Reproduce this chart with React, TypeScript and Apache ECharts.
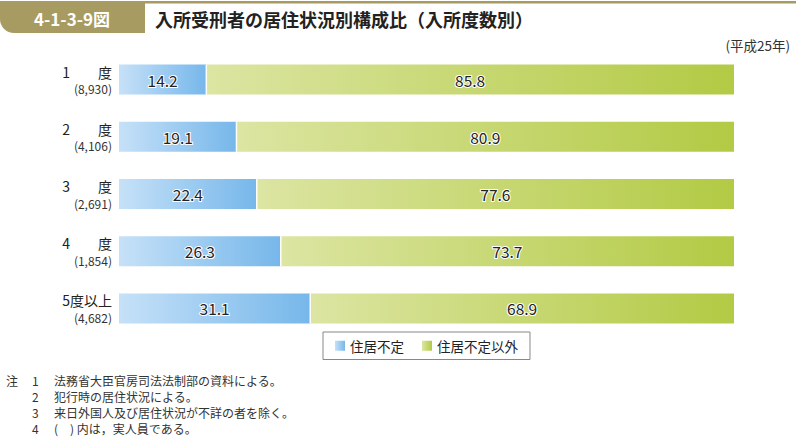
import React, { useEffect, useRef } from "react";
import * as echarts from "echarts";

const categories = ["1　　度", "2　　度", "3　　度", "4　　度", "5度以上"];
const counts = ["(8,930)", "(4,106)", "(2,691)", "(1,854)", "(4,682)"];
const seriesNames = ["住居不定", "住居不定以外"];
const homeless = [14.2, 19.1, 22.4, 26.3, 31.1];
const housed = [85.8, 80.9, 77.6, 73.7, 68.9];
const notes = [
  ["注", "1", "法務省大臣官房司法法制部の資料による。"],
  ["", "2", "犯行時の居住状況による。"],
  ["", "3", "来日外国人及び居住状況が不詳の者を除く。"],
  ["", "4", "(　) 内は，実人員である。"],
];

const FONT = "'Noto Sans CJK JP', 'Noto Sans', sans-serif";

export default function App() {
  const ref = useRef<HTMLDivElement>(null);
  useEffect(() => {
    if (!ref.current) return;
    const chart = echarts.init(ref.current, null, { renderer: "svg" });
    const blue = new echarts.graphic.LinearGradient(0, 0, 1, 0, [
      { offset: 0, color: "#c6e1f8" },
      { offset: 1, color: "#76b7ea" },
    ]);
    const green = new echarts.graphic.LinearGradient(0, 0, 1, 0, [
      { offset: 0, color: "#dce5a2" },
      { offset: 1, color: "#b2ca44" },
    ]);
    const noteGraphics: any[] = [];
    notes.forEach((n, i) => {
      const y = 380 + i * 16.2;
      const st = { fontSize: 12, fill: "#333", fontFamily: FONT, verticalAlign: "middle" };
      if (n[0]) noteGraphics.push({ type: "text", x: 6, y, style: { ...st, text: n[0] } });
      noteGraphics.push({ type: "text", x: 32, y, style: { ...st, text: n[1] } });
      noteGraphics.push({ type: "text", x: 54, y, style: { ...st, text: n[2] } });
    });
    const labelCfg = {
      show: true,
      position: "inside",
      fontSize: 15.5,
      color: "#222",
      textBorderColor: "#fff",
      textBorderWidth: 2,
      formatter: (p: any) => p.value.toFixed(1),
    };
    chart.setOption({
      animation: false,
      textStyle: { fontFamily: FONT },
      grid: { left: 119, right: 62, top: 51, height: 286 },
      xAxis: { type: "value", min: 0, max: 100, show: false },
      yAxis: {
        type: "category",
        data: categories,
        inverse: true,
        axisLine: { show: false },
        axisTick: { show: false },
        axisLabel: {
          margin: 7,
          align: "right",
          formatter: (v: string, i: number) => `{a|${v}}\n{b|${counts[i]}}`,
          rich: {
            a: { fontSize: 14, color: "#222", lineHeight: 18, align: "right" },
            b: { fontSize: 12, color: "#333", lineHeight: 16, align: "right" },
          },
        },
      },
      legend: {
        left: 323,
        top: 332,
        data: seriesNames,
        borderColor: "#888",
        borderWidth: 1,
        padding: [7, 12, 7, 12],
        itemWidth: 10,
        itemHeight: 10,
        itemGap: 18,
        icon: "rect",
        textStyle: { fontSize: 13.5, color: "#222" },
      },
      graphic: [
        { type: "rect", shape: { x: 0, y: 1, width: 796, height: 2.5 }, style: { fill: "#a89b62" } },
        { type: "rect", shape: { x: 0, y: 1, width: 145, height: 32, r: [0, 0, 0, 14] }, style: { fill: "#a89b62" } },
        { type: "text", x: 72, y: 18, style: { text: "4-1-3-9図", fontSize: 17, fontWeight: "bold", fill: "#fff", align: "center", verticalAlign: "middle", fontFamily: FONT } },
        { type: "text", x: 155, y: 19, style: { text: "入所受刑者の居住状況別構成比（入所度数別）", fontSize: 18, fontWeight: "bold", fill: "#222", verticalAlign: "middle", fontFamily: FONT } },
        { type: "text", x: 790, y: 45, style: { text: "(平成25年)", fontSize: 13.5, fill: "#333", align: "right", verticalAlign: "middle", fontFamily: FONT } },
        ...noteGraphics,
      ],
      series: [
        {
          name: seriesNames[0],
          type: "bar",
          stack: "s",
          barWidth: 30,
          data: homeless,
          itemStyle: { color: blue },
          label: labelCfg,
        },
        {
          name: seriesNames[1],
          type: "bar",
          stack: "s",
          barWidth: 30,
          data: housed,
          itemStyle: { color: green },
          label: labelCfg,
        },
        {
          type: "custom",
          silent: true,
          data: homeless.map((v, i) => [v, i]),
          encode: { x: 0, y: 1 },
          renderItem: (params: any, api: any) => {
            const p = api.coord([api.value(0), api.value(1)]);
            return { type: "line", shape: { x1: p[0], y1: p[1] - 15, x2: p[0], y2: p[1] + 15 }, style: { stroke: "#fff", lineWidth: 1.5 } };
          },
          z: 5,
        },
      ],
    });
    return () => chart.dispose();
  }, []);
  return <div ref={ref} style={{ width: 796, height: 438, position: "absolute", left: 0, top: 0 }} />;
}
